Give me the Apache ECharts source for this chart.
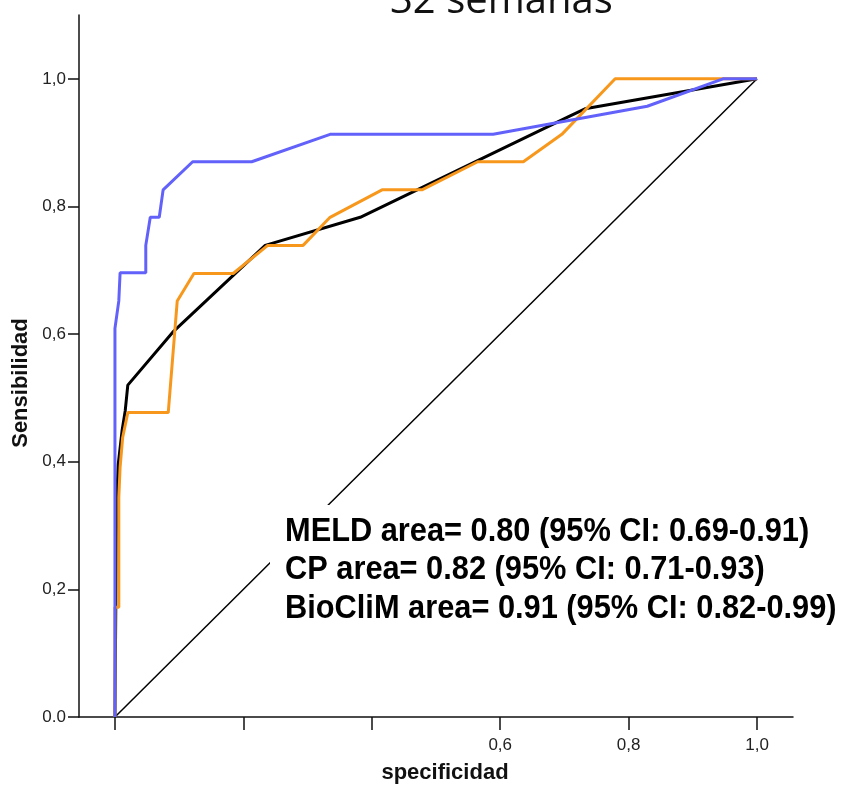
<!DOCTYPE html>
<html>
<head>
<meta charset="utf-8">
<script src="https://cdn.jsdelivr.net/npm/echarts@6/dist/echarts.min.js"></script>
<style>
  html, body { margin: 0; padding: 0; background: #fff; }
  #chart { width: 849px; height: 789px; }
</style>
</head>
<body>
<div id="chart"></div>
<script>
// 1 - especificidad (x) y sensibilidad (y) de cada curva ROC
var meldX = [0, 0.002, 0.003, 0.005, 0.011, 0.016, 0.020, 0.090, 0.234, 0.382, 0.709, 0.732, 1];
var meldY = [0, 0.266, 0.348, 0.395, 0.448, 0.480, 0.520, 0.603, 0.739, 0.783, 0.942, 0.953, 1];

var cpX = [0, 0, 0.006, 0.006, 0.008, 0.012, 0.020, 0.083, 0.097, 0.123, 0.184, 0.238, 0.293, 0.335, 0.416, 0.478, 0.565, 0.636, 0.696, 0.779, 1];
var cpY = [0, 0.172, 0.172, 0.344, 0.391, 0.438, 0.477, 0.477, 0.652, 0.695, 0.695, 0.739, 0.739, 0.783, 0.826, 0.826, 0.870, 0.870, 0.913, 1, 1];

var bioX = [0, 0, 0.006, 0.008, 0.048, 0.048, 0.055, 0.069, 0.075, 0.121, 0.213, 0.335, 0.589, 0.829, 0.947, 1];
var bioY = [0, 0.609, 0.652, 0.696, 0.696, 0.739, 0.783, 0.783, 0.826, 0.870, 0.870, 0.913, 0.913, 0.957, 1, 1];

var refX = [0, 1];
var refY = [0, 1];

var xTicks = [0, 0.2, 0.4, 0.6, 0.8, 1];
var xLabels = [0.6, 0.8, 1];
var yTicks = [0, 0.2, 0.4, 0.6, 0.8, 1];

var legendLines = [
  "MELD area= 0.80 (95% CI: 0.69-0.91)",
  "CP area= 0.82 (95% CI: 0.71-0.93)",
  "BioCliM area= 0.91 (95% CI: 0.82-0.99)"
];

function pairs(xs, ys) {
  return xs.map(function (x, i) {
    return [x, ys[i]];
  });
}

function comma(v) {
  return v.toFixed(1).replace(".", ",");
}

var chart = echarts.init(document.getElementById("chart"));
var option = {
  animation: false,
  backgroundColor: "#fff",
  title: {
    text: "32 semanas",
    left: 385,
    top: -23,
    textStyle: {
      fontFamily: "Open Sans",
      fontSize: 40,
      fontWeight: "normal",
      color: "#111"
    }
  },
  grid: {
    left: 79,
    right: 56,
    top: 15,
    bottom: 69
  },
  xAxis: {
    type: "value",
    min: -0.056,
    max: 1.056,
    name: "specificidad",
    nameLocation: "middle",
    nameGap: 45,
    nameTextStyle: {
      fontFamily: "Liberation Sans",
      fontWeight: "bold",
      fontSize: 22,
      color: "#111",
      padding: [0, 0, 0, 18]
    },
    axisLine: { onZero: false, lineStyle: { color: "#111", width: 1.5 } },
    axisTick: {
      customValues: xTicks,
      length: 13,
      lineStyle: { color: "#111", width: 1.5 }
    },
    axisLabel: {
      customValues: xLabels,
      margin: 20,
      fontFamily: "Liberation Sans",
      fontSize: 17,
      color: "#222",
      formatter: comma
    },
    splitLine: { show: false }
  },
  yAxis: {
    type: "value",
    min: 0,
    max: 1.1,
    name: "Sensibilidad",
    nameLocation: "middle",
    nameGap: 40,
    nameTextStyle: {
      fontFamily: "Liberation Sans",
      fontWeight: "bold",
      fontSize: 22,
      color: "#111",
      padding: [0, 34, 0, 0]
    },
    axisLine: { onZero: false, lineStyle: { color: "#111", width: 1.5 } },
    axisTick: {
      customValues: yTicks,
      length: 11,
      lineStyle: { color: "#111", width: 1.5 }
    },
    axisLabel: {
      customValues: yTicks,
      margin: 13,
      fontFamily: "Liberation Sans",
      fontSize: 17,
      color: "#222",
      formatter: comma
    },
    splitLine: { show: false }
  },
  series: [
    {
      name: "Referencia",
      type: "line",
      data: pairs(refX, refY),
      symbol: "none",
      lineStyle: { color: "#000", width: 1.5 }
    },
    {
      name: "MELD",
      type: "line",
      data: pairs(meldX, meldY),
      symbol: "none",
      lineStyle: { color: "#000", width: 3 }
    },
    {
      name: "CP",
      type: "line",
      data: pairs(cpX, cpY),
      symbol: "none",
      lineStyle: { color: "#f7981d", width: 3 }
    },
    {
      name: "BioCliM",
      type: "line",
      data: pairs(bioX, bioY),
      symbol: "none",
      lineStyle: { color: "#6262fb", width: 3 }
    }
  ],
  graphic: [
    {
      type: "rect",
      z: 100,
      shape: { x: 270, y: 505, width: 578, height: 122 },
      style: { fill: "#fff" }
    },
    {
      type: "text",
      z: 101,
      x: 285,
      y: 512,
      scaleX: 0.905,
      style: {
        text: legendLines.join("\n"),
        font: 'bold 34px "Liberation Sans"',
        lineHeight: 38.5,
        fill: "#000"
      }
    },
    {
      type: "rect",
      z: 100,
      shape: { x: 30, y: 722, width: 47, height: 20 },
      style: { fill: "#fff" }
    }
  ]
};
chart.setOption(option);
</script>
</body>
</html>
